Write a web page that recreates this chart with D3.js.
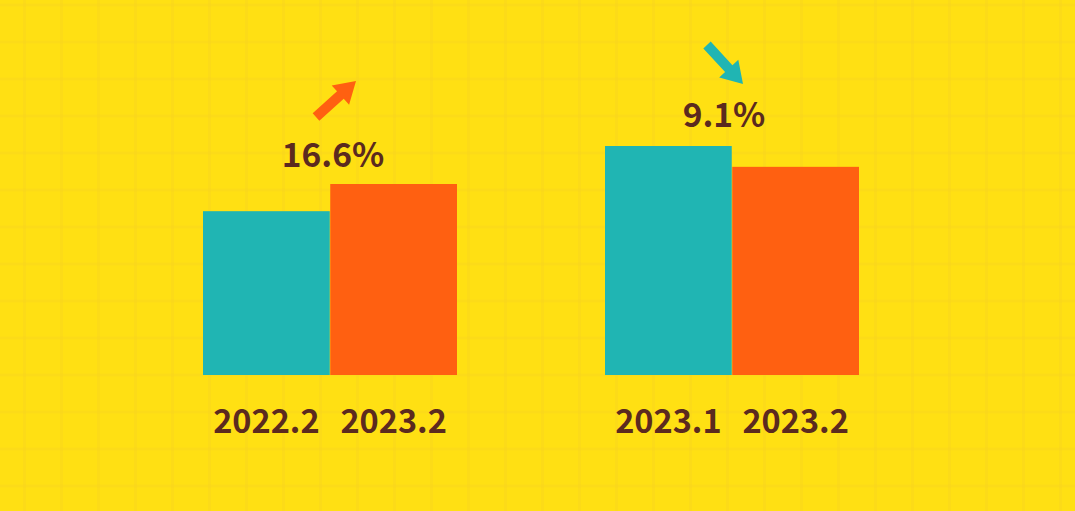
<!DOCTYPE html>
<html>
<head>
<meta charset="utf-8">
<script src="https://cdn.jsdelivr.net/npm/d3@7/dist/d3.min.js"></script>
<style>
  html, body { margin: 0; padding: 0; background: #FFE013; }
  svg { display: block; }
</style>
</head>
<body>
<svg id="chart" width="1075" height="511"></svg>
<script>
// ---- data ----
const leftCategories = ["2022.2", "2023.2"];
const leftValues = [100, 116.6];
const leftChange = "16.6%";
const leftDirection = "up";

const rightCategories = ["2023.1", "2023.2"];
const rightValues = [100, 90.9];
const rightChange = "9.1%";
const rightDirection = "down";

const barColors = ["#20B5B3", "#FF6011"];

// ---- layout ----
const W = 1075, H = 511;
const svg = d3.select("#chart");
const textColor = "#5B2A1F";
const FONT = "'Noto Sans CJK SC', 'Noto Sans', sans-serif";

// background grid
const bg = svg.append("g");
bg.append("rect").attr("width", W).attr("height", H).attr("fill", "#FFE013");
const gx = d3.range(24.5, W, 37);
const gy = d3.range(5, H, 37);
bg.selectAll("line.v").data(gx).join("line")
  .attr("x1", d => d).attr("x2", d => d).attr("y1", 0).attr("y2", H)
  .attr("stroke", "#F8D122").attr("stroke-width", 3).attr("stroke-opacity", 0.38);
bg.selectAll("line.h").data(gy).join("line")
  .attr("x1", 0).attr("x2", W).attr("y1", d => d).attr("y2", d => d)
  .attr("stroke", "#F8D122").attr("stroke-width", 3).attr("stroke-opacity", 0.38);

function arrow(g, x1, y1, x2, y2, color) {
  const dx = x2 - x1, dy = y2 - y1;
  const L = Math.hypot(dx, dy);
  const ux = dx / L, uy = dy / L, px = -uy, py = ux;
  const sw = 5, hl = 21, hw = 13;
  const bx = x2 - ux * hl, by = y2 - uy * hl;
  const pts = [
    [x1 + px * sw, y1 + py * sw],
    [bx + px * sw, by + py * sw],
    [bx + px * hw, by + py * hw],
    [x2, y2],
    [bx - px * hw, by - py * hw],
    [bx - px * sw, by - py * sw],
    [x1 - px * sw, y1 - py * sw]
  ];
  g.append("polygon").attr("points", pts.map(p => p.join(",")).join(" ")).attr("fill", color);
}

function drawGroup(cats, vals, change, dir, x0, x1, yTop, labelX, labelY, arrowPts) {
  const g = svg.append("g");
  const x = d3.scaleBand().domain(cats).range([x0, x1]).paddingInner(0.004);
  const maxV = d3.max(vals);
  const y = d3.scaleLinear().domain([0, maxV]).range([375, yTop]);
  g.selectAll("rect").data(vals).join("rect")
    .attr("x", (d, i) => x(cats[i]))
    .attr("width", x.bandwidth())
    .attr("y", d => y(d))
    .attr("height", d => y(0) - y(d))
    .attr("fill", (d, i) => barColors[i]);

  const axis = d3.axisBottom(x).tickSize(0).tickPadding(0);
  const ax = g.append("g").attr("transform", "translate(0,409)").call(axis);
  ax.select(".domain").remove();
  ax.selectAll("text")
    .attr("fill", textColor)
    .attr("font-family", FONT)
    .attr("font-weight", "bold")
    .attr("font-size", 32.5)
    .attr("dy", "0.74em");

  g.append("text").attr("x", labelX).attr("y", labelY)
    .attr("text-anchor", "middle")
    .attr("fill", textColor)
    .attr("font-family", FONT)
    .attr("font-weight", "bold")
    .attr("font-size", 33.5)
    .text(change);

  const col = dir === "up" ? barColors[1] : barColors[0];
  arrow(g, arrowPts[0], arrowPts[1], arrowPts[2], arrowPts[3], col);
}

drawGroup(leftCategories, leftValues, leftChange, leftDirection, 203, 457, 184, 333, 167, [316, 117, 356, 81]);
drawGroup(rightCategories, rightValues, rightChange, rightDirection, 605, 859, 146, 724, 127, [707, 45, 743, 84]);
</script>
</body>
</html>
